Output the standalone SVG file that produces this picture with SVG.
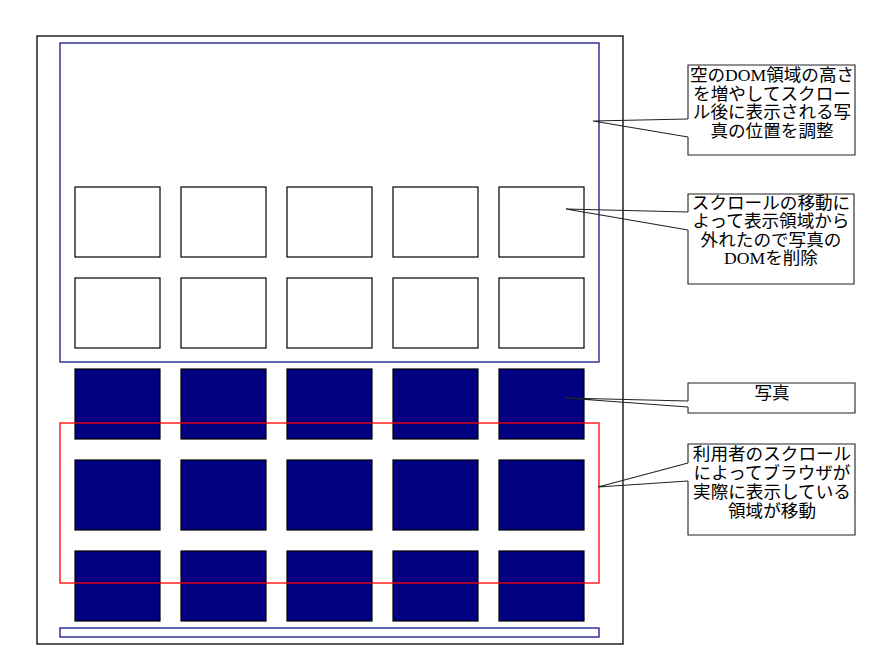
<svg xmlns="http://www.w3.org/2000/svg" width="883" height="665" viewBox="0 0 883 665">
<style>
.frame{fill:none;stroke:#000;stroke-width:1.3}
.dom{fill:none;stroke:#000080;stroke-width:1.2}
.view{fill:none;stroke:#ff0000;stroke-width:1.3}
.empty{fill:#fff;stroke:#000;stroke-width:1.2}
.photo{fill:#000080;stroke:#000;stroke-width:1.2}
.callout{fill:none;stroke:#222;stroke-width:1.1}
.conn{fill:none;stroke:#222;stroke-width:1.1}
text{font-family:"Liberation Serif","Noto Sans CJK JP",serif;font-size:17.6px;fill:#000;text-anchor:middle}
</style>
<rect width="883" height="665" fill="#fff"/>
<g id="browser-frame"><rect class="frame" x="37" y="36" width="586" height="608"/></g>
<g id="dom-area"><rect class="dom" x="60" y="43" width="539" height="319"/></g>
<g id="dom-bottom"><rect class="dom" x="60" y="628" width="539" height="9"/></g>
<g id="removed-photos">
<rect class="empty" x="75" y="187" width="85" height="70"/>
<rect class="empty" x="181" y="187" width="85" height="70"/>
<rect class="empty" x="287" y="187" width="85" height="70"/>
<rect class="empty" x="393" y="187" width="85" height="70"/>
<rect class="empty" x="499" y="187" width="85" height="70"/>
<rect class="empty" x="75" y="278" width="85" height="70"/>
<rect class="empty" x="181" y="278" width="85" height="70"/>
<rect class="empty" x="287" y="278" width="85" height="70"/>
<rect class="empty" x="393" y="278" width="85" height="70"/>
<rect class="empty" x="499" y="278" width="85" height="70"/>
</g>
<g id="photos">
<rect class="photo" x="75" y="369" width="85" height="70"/>
<rect class="photo" x="181" y="369" width="85" height="70"/>
<rect class="photo" x="287" y="369" width="85" height="70"/>
<rect class="photo" x="393" y="369" width="85" height="70"/>
<rect class="photo" x="499" y="369" width="85" height="70"/>
<rect class="photo" x="75" y="460" width="85" height="70"/>
<rect class="photo" x="181" y="460" width="85" height="70"/>
<rect class="photo" x="287" y="460" width="85" height="70"/>
<rect class="photo" x="393" y="460" width="85" height="70"/>
<rect class="photo" x="499" y="460" width="85" height="70"/>
<rect class="photo" x="75" y="551" width="85" height="70"/>
<rect class="photo" x="181" y="551" width="85" height="70"/>
<rect class="photo" x="287" y="551" width="85" height="70"/>
<rect class="photo" x="393" y="551" width="85" height="70"/>
<rect class="photo" x="499" y="551" width="85" height="70"/>
</g>
<g id="viewport"><rect class="view" x="60" y="423" width="539" height="160"/></g>
<g id="note-dom-height">
<path class="callout" d="M688,119 V65 H855 V155 H688 V137"/>
<text x="772" y="81">空のDOM領域の高さ</text>
<text x="772" y="99.6">を増やしてスクロー</text>
<text x="772" y="118.2">ル後に表示される写</text>
<text x="772" y="136.8">真の位置を調整</text>
</g>
<g id="note-removed">
<path class="callout" d="M688,212 V194 H854 V284 H688 V230"/>
<text x="771" y="208.5">スクロールの移動に</text>
<text x="771" y="227">よって表示領域から</text>
<text x="771" y="245.5">外れたので写真の</text>
<text x="771" y="264">DOMを削除</text>
</g>
<g id="note-photo">
<path class="callout" d="M688,401 V383 H855 V413 H688 V407"/>
<text x="772" y="399">写真</text>
</g>
<g id="note-viewport">
<path class="callout" d="M688,463 V444 H855 V535 H688 V481"/>
<text x="772" y="459.5">利用者のスクロール</text>
<text x="772" y="478.5">によってブラウザが</text>
<text x="772" y="497.5">実際に表示している</text>
<text x="772" y="516.5">領域が移動</text>
</g>
<g id="connectors">
<polyline class="conn" points="688,119 593,121 688,137"/>
<polyline class="conn" points="688,212 566,209 688,230"/>
<polyline class="conn" points="688,401 565,398 688,407"/>
<polyline class="conn" points="688,463 598,487 688,481"/>
</g>
</svg>
